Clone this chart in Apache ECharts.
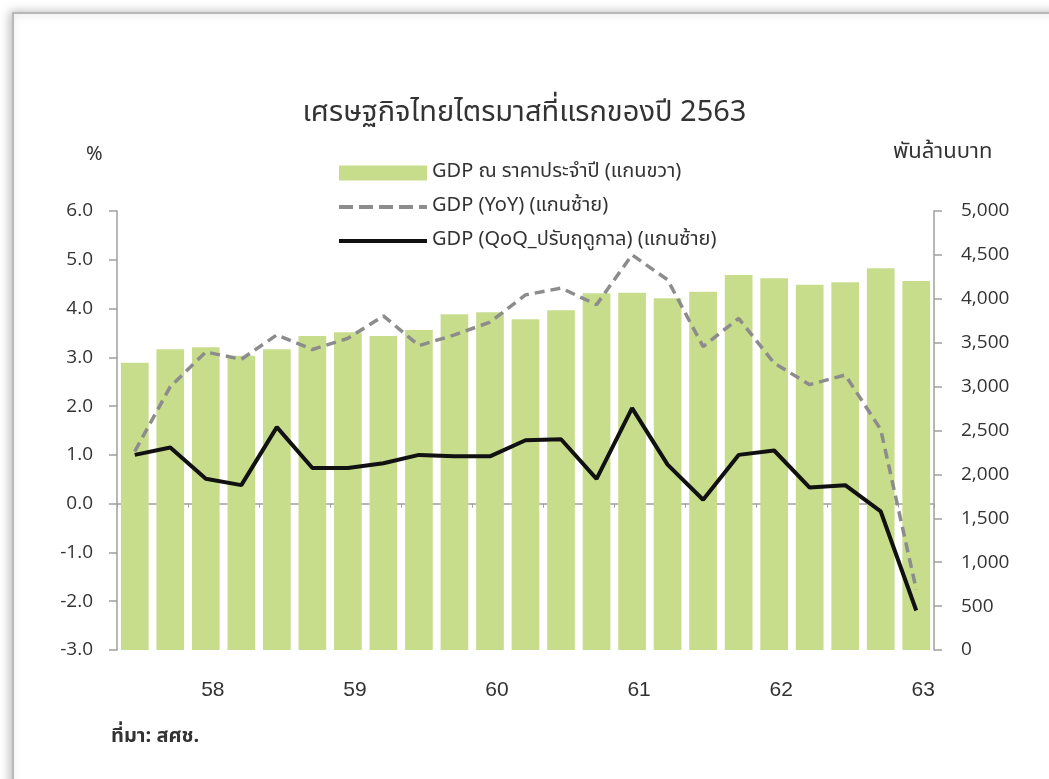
<!DOCTYPE html>
<html>
<head>
<meta charset="utf-8">
<script src="https://cdn.jsdelivr.net/npm/echarts@6/dist/echarts.min.js"></script>
<style>
html,body{margin:0;padding:0;background:#fff;}
#chart{width:1049px;height:779px;}
</style>
</head>
<body>
<div id="chart"></div>
<script>
// Quarters: Q3/2557 .. Q1/2563
const categories = ['Q3/57','Q4/57','Q1/58','Q2/58','Q3/58','Q4/58','Q1/59','Q2/59','Q3/59','Q4/59',
  'Q1/60','Q2/60','Q3/60','Q4/60','Q1/61','Q2/61','Q3/61','Q4/61','Q1/62','Q2/62','Q3/62','Q4/62','Q1/63'];
const tickLabels = ['','','58','','','','59','','','','60','','','','61','','','','62','','','','63'];
const gdpNominal = [3272,3425,3448,3352,3425,3576,3618,3576,3645,3823,3846,3766,3869,4063,4070,4006,4081,4271,4233,4161,4188,4347,4203];
const gdpYoY = [1.07,2.40,3.11,2.96,3.46,3.16,3.39,3.85,3.24,3.46,3.72,4.28,4.42,4.08,5.10,4.59,3.22,3.80,2.88,2.44,2.64,1.52,-1.76];
const gdpQoQ = [1.00,1.15,0.51,0.38,1.57,0.73,0.73,0.83,1.00,0.97,0.97,1.30,1.32,0.51,1.96,0.80,0.08,1.00,1.09,0.33,0.38,-0.16,-2.19];
const leftTicks = {min:-3, max:6, interval:1};
const rightTicks = {min:0, max:5000, interval:500};
const seriesNames = ['GDP ณ ราคาประจำปี (แกนขวา)','GDP (YoY) (แกนซ้าย)','GDP (QoQ_ปรับฤดูกาล) (แกนซ้าย)'];

const thaiFont = "'Noto Sans Thai','Tahoma','Leelawadee UI','Garuda','Loma','Open Sans','DejaVu Sans',sans-serif";
const chart = echarts.init(document.getElementById('chart'), null, {renderer:'canvas'});
chart.setOption({
  backgroundColor:'#ffffff',
  animation:false,
  title:{
    text:'เศรษฐกิจไทยไตรมาสที่แรกของปี 2563',
    left:'center', top:96,
    textStyle:{fontFamily:thaiFont, fontSize:29, fontWeight:'normal', color:'#333'}
  },
  legend:{
    orient:'vertical', left:332, top:158,
    itemWidth:88, itemHeight:15, itemGap:14,
    textStyle:{fontFamily:thaiFont, fontSize:20, color:'#333'},
    data:[
      {name:seriesNames[0], icon:'rect'},
      {name:seriesNames[1], itemStyle:{opacity:0}, lineStyle:{width:4, color:'#8c8c8c', type:[14,6]}},
      {name:seriesNames[2], itemStyle:{opacity:0}, lineStyle:{width:4, color:'#111'}}
    ]
  },
  graphic:[
    {type:'rect', shape:{x:13,y:13,width:1100,height:900}, z:-10,
     style:{fill:'#fff', stroke:'#b8b8b8', lineWidth:2, shadowBlur:10, shadowColor:'rgba(0,0,0,0.25)', shadowOffsetX:-2, shadowOffsetY:0}},
    {type:'text', left:86, top:146, style:{text:'%', font:"20px "+thaiFont, fill:'#333'}},
    {type:'text', left:893, top:143, style:{text:'พันล้านบาท', font:"22px "+thaiFont, fill:'#333'}},
    {type:'text', left:111, top:728, style:{text:'ที่มา: สศช.', font:"bold 20px "+thaiFont, fill:'#333'}}
  ],
  grid:{left:117, right:115, top:211, bottom:129, containLabel:false},
  xAxis:[
    {type:'category', data:categories, position:'bottom',
     axisLine:{show:false, onZero:false}, axisTick:{show:false},
     axisLabel:{interval:0, margin:30, padding:[0,0,0,14], fontFamily:"'Liberation Sans',Arial,sans-serif", fontSize:21, color:'#333',
       formatter:(v,i)=>tickLabels[i]}},
    {type:'category', data:categories, position:'bottom',
     axisLine:{show:true, onZero:true, onZeroAxisIndex:0, lineStyle:{color:'#a0a0a0', width:1.5}},
     axisTick:{show:true, alignWithLabel:false, length:4, lineStyle:{color:'#a0a0a0'}},
     axisLabel:{show:false}}
  ],
  yAxis:[
    {type:'value', min:leftTicks.min, max:leftTicks.max, interval:leftTicks.interval, position:'left',
     axisLine:{show:true, lineStyle:{color:'#a0a0a0', width:1.5}},
     axisTick:{show:true, length:8, lineStyle:{color:'#a0a0a0', width:1.5}},
     splitLine:{show:false},
     axisLabel:{margin:24, fontFamily:"'Open Sans','Noto Sans',sans-serif", fontSize:19, color:'#333',
       formatter:v=>v.toFixed(1)}},
    {type:'value', min:rightTicks.min, max:rightTicks.max, interval:rightTicks.interval, position:'right',
     axisLine:{show:true, lineStyle:{color:'#a0a0a0', width:1.5}},
     axisTick:{show:true, length:8, lineStyle:{color:'#a0a0a0', width:1.5}},
     splitLine:{show:false},
     axisLabel:{margin:27, fontFamily:"'Open Sans','Noto Sans',sans-serif", fontSize:19, color:'#333',
       formatter:v=>v.toLocaleString('en-US')}}
  ],
  series:[
    {name:seriesNames[0], type:'bar', xAxisIndex:0, yAxisIndex:1, data:gdpNominal,
     barCategoryGap:'22%', itemStyle:{color:'#c8dd8c'}, z:1},
    {name:seriesNames[1], type:'line', xAxisIndex:0, yAxisIndex:0, data:gdpYoY,
     symbol:'none', lineStyle:{color:'#8c8c8c', width:3.5, type:[10,6]}, itemStyle:{color:'#8c8c8c'}, z:3},
    {name:seriesNames[2], type:'line', xAxisIndex:0, yAxisIndex:0, data:gdpQoQ,
     symbol:'none', lineStyle:{color:'#111', width:4}, itemStyle:{color:'#111'}, z:4}
  ]
});
</script>
</body>
</html>
